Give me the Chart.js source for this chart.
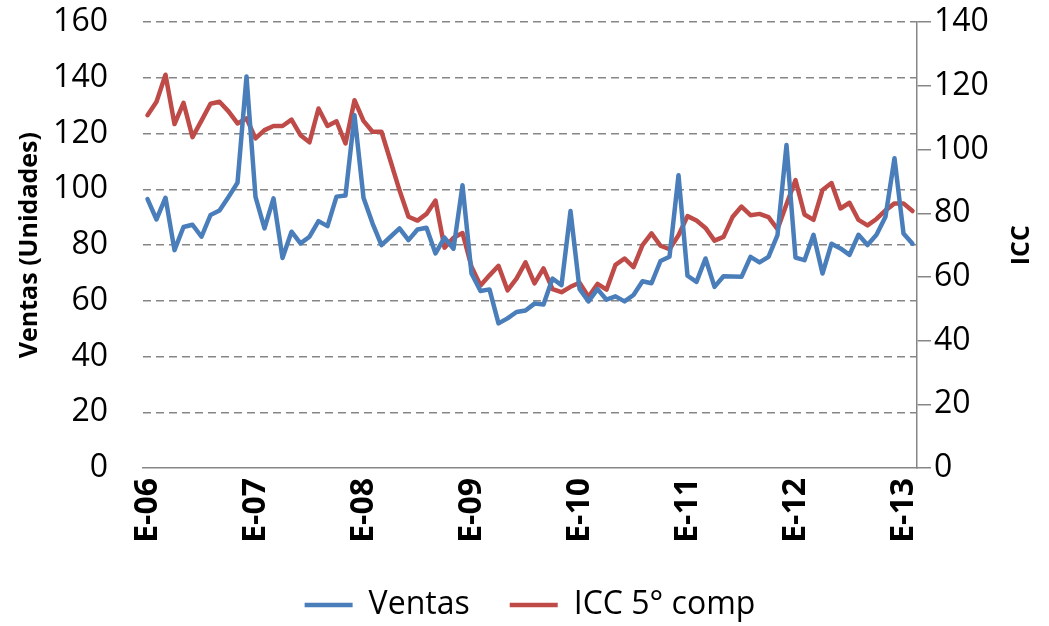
<!DOCTYPE html>
<html>
<head>
<meta charset="utf-8">
<script src="https://cdn.jsdelivr.net/npm/chart.js"></script>
<style>
  html, body { margin: 0; padding: 0; background: #fff; }
  #wrap { width: 1049px; height: 626px; }
</style>
</head>
<body>
<div id="wrap"><canvas id="ventasChart" width="1049" height="626"></canvas></div>
<script>
// meses ene-06 .. feb-13
const monthCodes = ['E', 'F', 'M', 'A', 'M', 'J', 'J', 'A', 'S', 'O', 'N', 'D'];
const years = ['06', '07', '08', '09', '10', '11', '12', '13'];
const yearTicks = ['E-06', 'E-07', 'E-08', 'E-09', 'E-10', 'E-11', 'E-12', 'E-13'];
const months = [];
years.forEach(y => monthCodes.forEach(m => months.push(m + '-' + y)));
months.length = 86;

// Ventas (Unidades), eje izquierdo
const ventas = [
  96.5, 89.2, 97, 78.2, 86.5, 87.3, 83, 90.8, 92.4, 97.3, 102.4, 140.5,
  97.3, 86, 96.8, 75.4, 84.8, 80.6, 83, 88.6, 86.8, 97.4, 97.8, 126.6,
  97, 87.8, 80, 83, 86, 81.8, 85.6, 86.2, 77, 82.7, 78.7, 101.5,
  69.8, 63.5, 64.1, 51.9, 53.7, 56, 56.5, 59, 58.7, 68, 65.6, 92.2,
  64.3, 59.8, 64.2, 60.4, 61.6, 59.8, 62.1, 67, 66.3, 74.3, 75.8, 105.1,
  69, 66.8, 75.2, 65, 68.8, 68.7, 68.6, 75.8, 73.8, 75.8, 83.6, 115.9,
  75.5, 74.6, 83.7, 69.8, 80.5, 78.8, 76.5, 83.7, 80, 83.7, 90.2, 111.2,
  84.2, 80.5
];

// ICC 5° comp, eje derecho
const icc = [
  110.8, 115, 123.5, 108, 114.7, 103.9, 109.1, 114.4, 115, 112, 108.2, 109.8,
  103.5, 106.1, 107.4, 107.4, 109.4, 104.5, 102.3, 112.9, 107.4, 108.9, 101.9, 115.5,
  109, 105.6, 105.6, 96.4, 87.2, 78.9, 77.7, 79.8, 84, 69.2, 72.3, 73.8,
  63.2, 57.3, 60.5, 63.5, 55.8, 59.5, 64.6, 58, 62.7, 56.2, 55.2, 56.9,
  58.2, 53.8, 57.8, 56, 63.8, 65.8, 63.1, 70, 73.7, 69.8, 68.7, 73.1,
  79.1, 77.7, 75.4, 71.4, 72.6, 78.8, 82.1, 79.4, 79.8, 78.8, 75, 82.8,
  90.4, 79.6, 77.9, 87.3, 89.5, 81.5, 83.3, 77.9, 76.2, 78.2, 80.9, 83.1,
  83.1, 80.7
];

const fontFamily = "'Open Sans', sans-serif";
const axisGrey = '#868686';

// titulo del eje derecho, leido de abajo hacia arriba como en Excel
const rightTitle = {
  id: 'rightTitle',
  afterDraw(chart) {
    const { ctx, chartArea } = chart;
    ctx.save();
    ctx.translate(1022, (chartArea.top + chartArea.bottom) / 2);
    ctx.rotate(-Math.PI / 2);
    ctx.fillStyle = '#000';
    ctx.font = 'bold 25px ' + fontFamily;
    ctx.textAlign = 'center';
    ctx.textBaseline = 'middle';
    ctx.fillText('ICC', 0, 0);
    ctx.restore();
  }
};

const ctx = document.getElementById('ventasChart').getContext('2d');

const ventasChart = new Chart(ctx, {
  type: 'line',
  data: {
    labels: months,
    datasets: [{
      label: 'Ventas',
      data: ventas,
      yAxisID: 'y',
      borderColor: '#4a7ebb',
      backgroundColor: '#4a7ebb',
      borderWidth: 4.5,
      borderJoinStyle: 'round',
      borderCapStyle: 'round',
      pointRadius: 0,
      tension: 0,
      fill: false
    }, {
      label: 'ICC 5° comp',
      data: icc,
      yAxisID: 'y1',
      borderColor: '#be4b48',
      backgroundColor: '#be4b48',
      borderWidth: 4.5,
      borderJoinStyle: 'round',
      borderCapStyle: 'round',
      pointRadius: 0,
      tension: 0,
      fill: false
    }]
  },
  options: {
    responsive: false,
    animation: false,
    layout: { padding: { top: 21, left: 0, right: 0, bottom: -5 } },
    plugins: {
      tooltip: { enabled: false },
      legend: {
        position: 'bottom',
        fullSize: false,
        labels: {
          usePointStyle: true,
          pointStyle: 'line',
          pointStyleWidth: 48,
          padding: 40,
          color: '#000',
          font: { family: fontFamily, size: 32 }
        }
      }
    },
    scales: {
      x: {
        offset: true,
        grid: { display: false, drawTicks: false },
        border: { display: true, color: axisGrey, width: 1.5 },
        ticks: {
          autoSkip: false,
          minRotation: 90,
          maxRotation: 90,
          padding: 10,
          color: '#000',
          font: { family: fontFamily, size: 32, weight: 'bold' },
          callback: (v, i) => i % 12 === 0 ? yearTicks[i / 12] : ''
        },
        afterFit: s => { s.height = 81; }
      },
      y: {
        position: 'left',
        min: 0,
        max: 160,
        ticks: { stepSize: 20, padding: 3, color: '#000', font: { family: fontFamily, size: 32 } },
        grid: {
          color: c => c.tick.value === 0 ? 'rgba(0,0,0,0)' : axisGrey,
          lineWidth: 1.5,
          drawTicks: true,
          tickLength: 32,
          tickColor: 'rgba(0,0,0,0)'
        },
        border: { display: false, dash: [8, 5] },
        title: {
          display: true,
          text: 'Ventas (Unidades)',
          color: '#000',
          font: { family: fontFamily, size: 25, weight: 'bold' },
          padding: { top: 15, bottom: 0 }
        },
        afterFit: s => { s.width = 143; }
      },
      y1: {
        position: 'right',
        min: 0,
        max: 140,
        ticks: { stepSize: 20, padding: 3, color: '#000', font: { family: fontFamily, size: 32 } },
        grid: { drawOnChartArea: false, color: axisGrey, lineWidth: 1.5, tickLength: 14 },
        border: { display: true, color: axisGrey, width: 1.5 },
        afterFit: s => { s.width = 132; }
      }
    }
  },
  plugins: [rightTitle]
});
</script>
</body>
</html>
